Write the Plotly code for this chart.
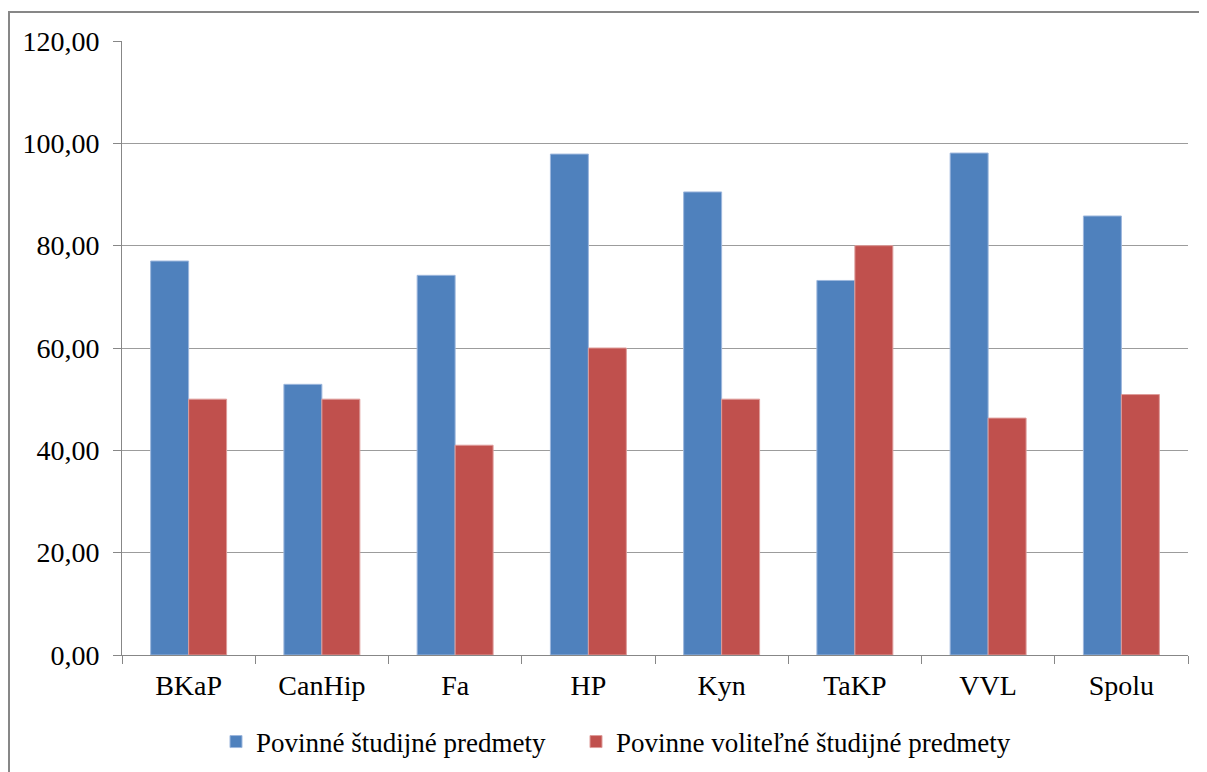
import plotly.graph_objects as go

categories = ["BKaP", "CanHip", "Fa", "HP", "Kyn", "TaKP", "VVL", "Spolu"]
povinne = [77.0, 52.9, 74.2, 97.9, 90.5, 73.2, 98.1, 85.8]
volitelne = [50.0, 50.0, 41.0, 60.0, 50.0, 80.0, 46.3, 50.9]
series_names = ["Povinné študijné predmety", "Povinne voliteľné študijné predmety"]
y_ticks = [0, 20, 40, 60, 80, 100, 120]

OFF = 8  # page body margin
W, H = 1199, 764
L, R, T, B = 114, 19, 33, 117
pw, ph = W - L - R, H - T - B

fig = go.Figure()
fig.add_trace(go.Bar(x=categories, y=povinne, name=series_names[0], legend="legend",
                     marker=dict(color="#4F81BD", line=dict(color="#9DB7DD", width=1))))
fig.add_trace(go.Bar(x=categories, y=volitelne, name=series_names[1], legend="legend2",
                     marker=dict(color="#C0504D", line=dict(color="#DE9C9A", width=1))))

font = "Liberation Serif, Times New Roman, serif"

def px_x(x):
    return (x - OFF - L) / pw

def px_y(y):
    return (H - B - (y - OFF)) / ph

leg_common = dict(orientation="h", yanchor="middle", xanchor="left",
                  font=dict(family=font, size=27, color="black"), bgcolor="rgba(0,0,0,0)")

fig.update_layout(
    width=W, height=H,
    margin=dict(l=L, r=R, t=T, b=B, autoexpand=False),
    paper_bgcolor="white", plot_bgcolor="white",
    barmode="group", bargap=0.43, bargroupgap=0,
    separators=", ",
    font=dict(family=font, size=28, color="black"),
    showlegend=True,
    legend=dict(x=px_x(216), y=px_y(742), **leg_common),
    legend2=dict(x=px_x(576), y=px_y(742), **leg_common),
    xaxis=dict(showline=True, linecolor="#878787", linewidth=1,
               ticks="outside", tickson="boundaries", ticklen=8, tickcolor="#878787",
               showgrid=False, tickfont=dict(family=font, size=28), ticklabelstandoff=5),
    yaxis=dict(range=[0, 120], tickvals=y_ticks, tickformat=".2f",
               showline=True, linecolor="#878787", linewidth=1,
               ticks="outside", ticklen=8, tickcolor="#878787",
               showgrid=True, gridcolor="#9C9C9C", gridwidth=1.2,
               zeroline=False, tickfont=dict(family=font, size=28), ticklabelstandoff=8),
    shapes=[dict(type="rect", xref="paper", yref="paper",
                 x0=px_x(9), x1=px_x(1230), y0=px_y(800), y1=px_y(12),
                 line=dict(color="#878787", width=2), fillcolor="rgba(0,0,0,0)", layer="below")],
)

fig.write_html("out.html")
